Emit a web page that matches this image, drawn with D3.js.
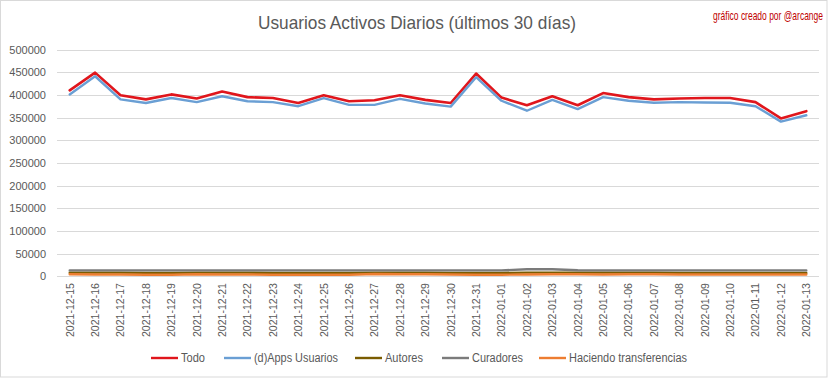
<!DOCTYPE html>
<html><head><meta charset="utf-8">
<script src="https://cdn.jsdelivr.net/npm/d3@7"></script>
<style>
html,body{margin:0;padding:0;background:#fff;}
svg text{font-family:"Liberation Sans",Arial,sans-serif;}
</style></head>
<body><svg id="c" width="833" height="379"></svg>
<script>
const dates = ["2021-12-15","2021-12-16","2021-12-17","2021-12-18","2021-12-19","2021-12-20","2021-12-21","2021-12-22","2021-12-23","2021-12-24","2021-12-25","2021-12-26","2021-12-27","2021-12-28","2021-12-29","2021-12-30","2021-12-31","2022-01-01","2022-01-02","2022-01-03","2022-01-04","2022-01-05","2022-01-06","2022-01-07","2022-01-08","2022-01-09","2022-01-10","2022-01-11","2022-01-12","2022-01-13"];
const todo = [410000,449000,399000,390000,401000,392000,407500,395000,393000,382000,399000,386000,388000,399000,389000,382000,447000,394000,377000,397000,377000,404000,395000,390000,392000,393000,393000,384000,348000,364000];
const dapps = [401000,441000,390000,382000,393000,384000,397000,386000,384000,375000,393000,378000,378000,391000,381000,374000,439000,387000,365000,389000,368500,395000,387000,382500,384000,383000,382500,375000,341000,355000];
const autores = [8000,8000,8000,7500,7500,8000,8000,8000,7500,7500,7500,7500,8000,8000,8000,7500,7500,7500,8000,8000,8000,8000,8000,8000,7500,7500,7500,7500,7500,7500];
const curadores = [13000,13000,13000,13000,13000,13000,13000,13000,13000,13000,13000,13000,13000,13000,13000,13000,13000,13000,15500,15500,13500,13000,13000,13000,13000,13000,13000,13000,13000,13000];
const transfer = [4500,4000,4000,3500,3500,4500,4000,4000,3500,3500,3500,3500,5000,4500,4500,4000,3500,3500,4000,4500,4500,4000,4500,4500,4000,4000,4000,4000,4000,4000];
const yTicks = [0,50000,100000,150000,200000,250000,300000,350000,400000,450000,500000];
const seriesNames = ["Todo","(d)Apps Usuarios","Autores","Curadores","Haciendo transferencias"];
const seriesData = [todo, dapps, autores, curadores, transfer];
const colors = ["#e0161c","#6a9fd4","#7a5c00","#7b7b7b","#ed7d31"];
const widths = [2.6,2.4,2.4,2.4,2.4];
const titleText = "Usuarios Activos Diarios (últimos 30 días)";
const creditText = "gráfico creado por @arcange";

const svg = d3.select("#c");
svg.append("rect").attr("x",0.5).attr("y",0.5).attr("width",826.5).attr("height",376.5)
  .attr("fill","#fff").attr("stroke","#d9d9d9").attr("stroke-width",1);

const x = d3.scaleBand().domain(dates).range([57,819]).padding(0);
const cx = d => x(d) + x.bandwidth()/2;
const y = d3.scaleLinear().domain([0,500000]).range([276.3,49.5]);

// gridlines
svg.append("g").selectAll("line").data(yTicks).join("line")
  .attr("x1",57).attr("x2",819)
  .attr("y1",d=>Math.round(y(d))+0.5).attr("y2",d=>Math.round(y(d))+0.5)
  .attr("stroke","#d9d9d9").attr("stroke-width",1);

// y axis labels
const yAxis = d3.axisLeft(y).tickValues(yTicks).tickSize(0).tickPadding(0).tickFormat(d3.format("d"));
const gy = svg.append("g").attr("transform","translate(46,0)").call(yAxis);
gy.select(".domain").remove();
gy.selectAll("text").attr("fill","#595959").attr("font-size","11px")
  .attr("font-family","Liberation Sans, Arial, sans-serif");

// x axis labels
const gx = svg.append("g").attr("transform","translate(0,276)")
  .call(d3.axisBottom(x).tickSize(0).tickPadding(0));
gx.select(".domain").remove();
gx.selectAll("text")
  .attr("fill","#595959").attr("font-size","11px")
  .attr("font-family","Liberation Sans, Arial, sans-serif")
  .attr("text-anchor","end")
  .attr("transform","translate(0,7) rotate(-90)")
  .attr("x",0).attr("y",0).attr("dy","0.35em")
  .attr("textLength",54).attr("lengthAdjust","spacingAndGlyphs");

// lines
const line = d3.line().x((d,i)=>cx(dates[i])).y(d=>y(d));
seriesData.forEach((s,k)=>{
  svg.append("path").datum(s).attr("d",line).attr("fill","none")
    .attr("stroke",colors[k]).attr("stroke-width",widths[k])
    .attr("stroke-linejoin","round").attr("stroke-linecap","round");
});

// title
svg.append("text").attr("x",417).attr("y",29).attr("text-anchor","middle")
  .attr("fill","#595959").attr("font-size","19px").attr("font-weight","300")
  .attr("textLength",318).attr("lengthAdjust","spacingAndGlyphs")
  .text(titleText);

// credit: scaled horizontally with a transform so its box stays inside
const credit = svg.append("text").attr("x",0).attr("y",0).attr("text-anchor","end")
  .attr("fill","#c00000").attr("font-size","13px")
  .text(creditText);
const cw = credit.node().getComputedTextLength();
credit.attr("transform",`translate(823,20) scale(${110/cw},1)`);

// legend
const legX = [151,224,355,442,539];
const legTL = [24,84,38,51,118];
const lg = svg.append("g");
seriesNames.forEach((n,k)=>{
  lg.append("line").attr("x1",legX[k]).attr("x2",legX[k]+27)
    .attr("y1",358).attr("y2",358).attr("stroke",colors[k]).attr("stroke-width",2.4);
  lg.append("text").attr("x",legX[k]+30).attr("y",362).attr("fill","#595959")
    .attr("font-size","12px").attr("textLength",legTL[k]).attr("lengthAdjust","spacingAndGlyphs")
    .text(n);
});
</script></body></html>
